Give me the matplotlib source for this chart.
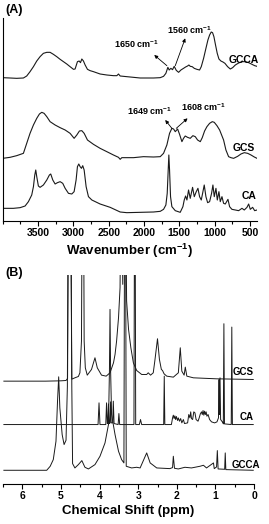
import matplotlib
matplotlib.use("Agg")
import matplotlib.pyplot as plt
from matplotlib.ticker import MultipleLocator

plt.rcParams['font.family'] = ['Liberation Sans', 'DejaVu Sans']
plt.rcParams['font.weight'] = 'bold'
plt.rcParams['mathtext.fontset'] = 'custom'
plt.rcParams['mathtext.rm'] = 'Liberation Sans:bold'
plt.rcParams['mathtext.it'] = 'Liberation Sans:bold'
plt.rcParams['mathtext.bf'] = 'Liberation Sans:bold'

# ---------------- FTIR data (wavenumber, a.u. above own baseline) ----------------
gcca_wn = [4000, 3896, 3802, 3707, 3660, 3613, 3565, 3518, 3471, 3424, 3376, 3329, 3282, 3235,
           3187, 3140, 3093, 3046, 2998, 2975, 2942, 2918, 2899, 2880, 2857, 2833, 2800, 2762,
           2715, 2621, 2526, 2432, 2384, 2361, 2337, 2243, 2148, 2054, 1959, 1865, 1770, 1723,
           1690, 1662, 1643, 1619, 1596, 1572, 1543, 1510, 1477, 1440, 1411, 1383, 1364, 1345,
           1317, 1288, 1251, 1213, 1189, 1156, 1123, 1095, 1071, 1048, 1029, 1010, 987, 963,
           939, 911, 882, 854, 816, 778, 745, 707, 660, 613, 565, 518, 471, 433, 400]
gcca_ir = [2, 1, 0, 1, 7, 20, 35, 52, 65, 75, 78, 78, 72, 65,
           57, 50, 43, 35, 27, 28, 50, 52, 47, 58, 52, 40, 27, 23,
           20, 13, 10, 8, 8, 13, 7, 5, 3, 1, 1, 1, 2, 6,
           15, 33, 25, 30, 26, 36, 24, 18, 25, 30, 34, 37, 40, 36,
           35, 30, 27, 25, 35, 60, 90, 115, 130, 139, 137, 125, 100, 75,
           58, 52, 49, 45, 35, 28, 32, 40, 46, 50, 50, 47, 42, 38, 36]

gcs_wn = [4000, 3896, 3802, 3707, 3660, 3613, 3565, 3518, 3480, 3447, 3414, 3376, 3329, 3258,
          3187, 3116, 3046, 2989, 2951, 2914, 2880, 2847, 2800, 2715, 2621, 2526, 2432, 2361,
          2337, 2314, 2243, 2148, 2007, 1865, 1770, 1723, 1676, 1638, 1605, 1581, 1557, 1524,
          1496, 1463, 1440, 1416, 1383, 1345, 1308, 1274, 1241, 1203, 1175, 1142, 1109, 1071,
          1033, 1005, 967, 929, 901, 873, 840, 802, 769, 731, 674, 627, 580, 532, 485, 438, 400]
gcs_ir = [0, 3, 8, 15, 45, 75, 100, 120, 133, 138, 135, 125, 110, 100,
          92, 85, 75, 60, 70, 82, 83, 75, 55, 42, 30, 20, 10, 3,
          -3, 2, 2, 2, 5, 4, 5, 15, 40, 75, 90, 88, 80, 88,
          72, 50, 60, 67, 63, 60, 68, 65, 55, 50, 62, 82, 95, 105,
          110, 108, 98, 85, 70, 55, 25, 5, 2, 0, 6, 13, 17, 15, 10, 4, 0]

ca_wn = [4000, 3849, 3754, 3683, 3636, 3589, 3565, 3546, 3532, 3518, 3495, 3471, 3424, 3376,
         3339, 3320, 3291, 3258, 3225, 3187, 3150, 3116, 3069, 3022, 2989, 2961, 2942, 2923,
         2904, 2885, 2867, 2847, 2819, 2786, 2738, 2621, 2479, 2337, 2243, 2054, 1865, 1770,
         1723, 1690, 1671, 1657, 1648, 1638, 1624, 1605, 1557, 1487, 1449, 1430, 1411, 1392,
         1369, 1345, 1312, 1288, 1260, 1236, 1213, 1189, 1170, 1147, 1123, 1099, 1071, 1043,
         1024, 1005, 981, 962, 939, 920, 896, 873, 849, 811, 788, 755, 707, 660, 613, 580,
         542, 518, 495, 462, 433, 400]
ca_ir = [13, 13, 15, 20, 33, 53, 78, 113, 128, 108, 80, 76, 83, 98,
         113, 116, 98, 86, 90, 93, 88, 73, 58, 56, 63, 98, 138, 146,
         138, 133, 141, 128, 78, 48, 38, 26, 16, 2, 0, 1, 2, 4,
         10, 23, 58, 128, 173, 128, 48, 18, 6, 1, 18, 38, 50, 38,
         68, 43, 76, 48, 63, 73, 48, 38, 58, 83, 48, 30, 33, 58,
         83, 48, 73, 38, 63, 33, 48, 28, 26, 40, 18, 10, 8, 6, 13, 8,
         16, 26, 10, 16, 6, 8]

ir_names = ['GCCA', 'GCS', 'CA']
ir_offsets = [428, 188, 25]

# ---------------- 1H NMR data (ppm, a.u. above own baseline) ----------------
gcs_ppm = [6.48, 5.40, 5.00, 4.87, 4.83, 4.80, 4.76, 4.72, 4.64, 4.55, 4.51, 4.47, 4.445, 4.42,
           4.40, 4.37, 4.32, 4.21, 4.12, 4.06, 3.95, 3.83, 3.73, 3.64, 3.60, 3.56, 3.51, 3.47,
           3.44, 3.40, 3.385, 3.34, 3.30, 3.25, 3.19, 3.125, 3.04, 2.91, 2.78, 2.74, 2.68, 2.61,
           2.57, 2.50, 2.45, 2.40, 2.37, 2.33, 2.26, 2.09, 1.96, 1.91, 1.87, 1.81, 1.78, 1.74,
           1.57, 0.97, 0.02]
gcs_h = [0, 0, 1, 2, 8, 700, 700, 6, 10, 14, 25, 120, 700, 700,
         120, 40, 18, 35, 70, 40, 18, 15, 25, 55, 80, 120, 190, 280,
         700, 290, 700, 700, 240, 155, 100, 55, 32, 20, 20, 25, 18, 25,
         60, 127, 65, 35, 32, 22, 15, 12, 25, 100, 30, 18, 42, 15,
         10, 7, 5]

ca_ppm = [6.48, 4.04, 4.015, 3.99, 3.84, 3.82, 3.80, 3.785, 3.77, 3.75, 3.73, 3.715, 3.70, 3.66,
          3.645, 3.625, 3.52, 3.50, 3.48, 3.11, 3.095, 3.08, 3.065, 2.97, 2.94, 2.91, 2.34, 2.325,
          2.31, 2.14, 2.11, 2.09, 2.07, 2.05, 2.03, 2.01, 1.98, 1.96, 1.93, 1.90, 1.87, 1.83,
          1.80, 1.72, 1.69, 1.66, 1.64, 1.62, 1.59, 1.56, 1.53, 1.50, 1.45, 1.42, 1.39, 1.36,
          1.34, 1.32, 1.30, 1.28, 1.26, 1.24, 1.22, 1.19, 1.15, 1.10, 1.02, 0.96, 0.92, 0.905,
          0.895, 0.88, 0.865, 0.80, 0.795, 0.78, 0.765, 0.59, 0.575, 0.56, 0.02]
ca_h = [0, 0, 65, 0, 0, 65, 3, 3, 62, 3, 5, 68, 5, 5,
        70, 3, 0, 33, 0, 0, 700, 700, 0, 0, 15, 0, 0, 145,
        0, 0, 20, 28, 18, 26, 15, 24, 12, 20, 10, 18, 5, 15,
        3, 5, 30, 20, 38, 18, 15, 38, 35, 15, 10, 20, 32, 38,
        30, 42, 28, 40, 30, 38, 25, 30, 15, 8, 5, 8, 20, 135,
        30, 140, 15, 5, 2, 302, 2, 0, 292, 0, 0]

gcca_ppm = [6.48, 5.37, 5.28, 5.20, 5.13, 5.09, 5.06, 5.03, 4.97, 4.92, 4.87, 4.835, 4.81, 4.745,
            4.72, 4.70, 4.64, 4.55, 4.46, 4.38, 4.29, 4.12, 3.99, 3.86, 3.77, 3.745, 3.73, 3.715,
            3.69, 3.60, 3.51, 3.43, 3.37, 3.35, 3.33, 3.31, 3.17, 3.04, 2.95, 2.78, 2.69, 2.61,
            2.52, 2.18, 2.11, 2.09, 2.06, 1.96, 1.79, 1.62, 1.40, 1.31, 1.23, 1.05, 1.03, 0.97,
            0.95, 0.93, 0.76, 0.745, 0.73, 0.02]
gcca_h = [0, 0, 12, 32, 87, 207, 280, 187, 107, 77, 90, 250, 900, 900,
          250, 20, 7, 17, 29, 9, 4, 17, 42, 82, 137, 300, 482, 300,
          167, 107, 57, 32, 22, 900, 900, 12, 7, 9, 7, 52, 22, 15,
          7, 5, 8, 42, 6, 4, 9, 7, 12, 15, 7, 22, 5, 10,
          59, 4, 3, 52, 2, 0]

nmr_names = ['GCS', 'CA', 'GCCA']
nmr_offsets = [309, 179, 42]

fig = plt.figure(figsize=(2.69, 5.24), dpi=100)

# ---------------- panel A: FTIR ----------------
axA = fig.add_axes([2.7 / 269, 1 - 221 / 524, (257 - 2.7) / 269, (221 - 18) / 524])
for wn, ir, off in zip([gcca_wn, gcs_wn, ca_wn], [gcca_ir, gcs_ir, ca_ir], ir_offsets):
    axA.plot(wn, [v + off for v in ir], color='#1a1a1a', lw=0.8)

axA.set_xlim(4000, 400)
axA.set_ylim(0, 609)
axA.spines['top'].set_visible(False)
axA.spines['right'].set_visible(False)
axA.set_yticks([])
axA.xaxis.set_minor_locator(MultipleLocator(250))
axA.set_xticks([3500, 3000, 2500, 2000, 1500, 1000, 500])
axA.tick_params(axis='x', which='major', direction='out', length=3.5, width=0.8, labelsize=7.5, pad=1.5)
axA.tick_params(axis='x', which='minor', direction='out', length=2, width=0.8)
axA.set_xlabel('Wavenumber (cm$^{-1}$)', fontsize=9.5, fontweight='bold', labelpad=3)

axA.text(590, 482, 'GCCA', fontsize=7.5, ha='center', va='center')
axA.text(590, 220, 'GCS', fontsize=7.5, ha='center', va='center')
axA.text(518, 75, 'CA', fontsize=7.5, ha='center', va='center')

axA.text(2110, 530, '1650 cm$^{-1}$', fontsize=6.5, ha='center', va='center')
axA.text(1364, 574, '1560 cm$^{-1}$', fontsize=6.5, ha='center', va='center')
axA.text(1920, 330, '1649 cm$^{-1}$', fontsize=6.5, ha='center', va='center')
axA.text(1160, 343, '1608 cm$^{-1}$', fontsize=6.5, ha='center', va='center')
arrows = [((1676, 466), (1855, 498)), ((1557, 466), (1416, 548)),
          ((1605, 278), (1699, 303)), ((1543, 278), (1383, 308))]
for tail, head in arrows:
    axA.annotate('', xy=head, xytext=tail,
                 arrowprops=dict(arrowstyle='-|>', lw=0.6, color='k', mutation_scale=5, shrinkA=0, shrinkB=0))

fig.text(5 / 269, 1 - 10 / 524, '(A)', fontsize=9, ha='left', va='center')

# ---------------- panel B: 1H NMR ----------------
axB = fig.add_axes([3.1 / 269, 1 - 484.3 / 524, (254 - 3.1) / 269, (484.3 - 275) / 524])
for ppm, h, off in zip([gcs_ppm, ca_ppm, gcca_ppm], [gcs_h, ca_h, gcca_h], nmr_offsets):
    axB.plot(ppm, [v + off for v in h], color='#1a1a1a', lw=0.7)

axB.set_xlim(6.5, 0)
axB.set_ylim(0, 627)
for s in ['top', 'right', 'left']:
    axB.spines[s].set_visible(False)
axB.set_yticks([])
axB.xaxis.set_major_locator(MultipleLocator(1))
axB.xaxis.set_minor_locator(MultipleLocator(0.5))
axB.tick_params(axis='x', which='major', direction='out', length=3.5, width=0.8, labelsize=7.5, pad=1.5)
axB.tick_params(axis='x', which='minor', direction='out', length=2, width=0.8)
axB.set_xlabel('Chemical Shift (ppm)', fontsize=9.5, fontweight='bold', labelpad=3)

axB.text(0.28, 336, 'GCS', fontsize=7, ha='center', va='center')
axB.text(0.19, 201, 'CA', fontsize=7, ha='center', va='center')
axB.text(0.21, 57, 'GCCA', fontsize=7, ha='center', va='center')

fig.text(5 / 269, 1 - 273 / 524, '(B)', fontsize=9, ha='left', va='center')

fig.savefig('out.png', dpi=100)
